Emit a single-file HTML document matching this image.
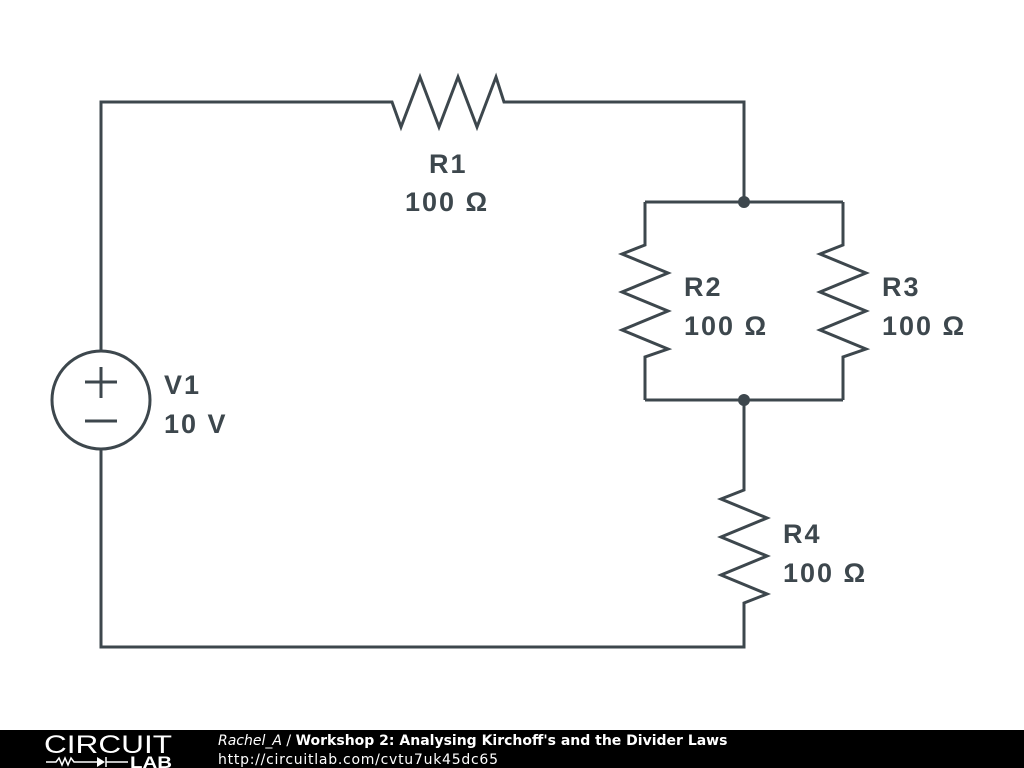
<!DOCTYPE html>
<html><head><meta charset="utf-8"><style>
html,body{margin:0;padding:0;background:#fff;width:1024px;height:768px;overflow:hidden}
svg{display:block}
</style></head><body>
<svg width="1024" height="768" viewBox="0 0 1024 768" xmlns="http://www.w3.org/2000/svg">
<g fill="none" stroke="#3d474d" stroke-width="3" stroke-linejoin="miter">
<polyline points="101,351 101,102 392,102 401,127 420,77 439,127 458,77 477,127 496,77 504,102 744,102 744,202"/>
<polyline points="645,202 843,202"/>
<polyline points="645,202 645,245 622,254 668,273 622,292 668,311 622,330 668,349 645,357 645,400"/>
<polyline points="843,202 843,245 820,254 866,273 820,292 866,311 820,330 866,349 843,357 843,400"/>
<polyline points="645,400 843,400"/>
<polyline points="744,400 744,490 721,499 767,518 721,537 767,556 721,575 767,594 744,603 744,647 101,647 101,449"/>
<circle cx="101" cy="400" r="49"/>
<line x1="85" y1="382" x2="117" y2="382"/><line x1="101" y1="367" x2="101" y2="398"/>
<line x1="85" y1="421" x2="117" y2="421"/>
</g>
<circle cx="744" cy="202" r="6" fill="#3d474d"/>
<circle cx="744" cy="400" r="6" fill="#3d474d"/>
<g fill="#3d474d" font-family="Liberation Sans, Arial, sans-serif" font-weight="bold" font-size="27" letter-spacing="2">
<text x="429" y="173">R1</text><text x="405" y="211">100 Ω</text>
<text x="684" y="296">R2</text><text x="684" y="335">100 Ω</text>
<text x="882" y="296">R3</text><text x="882" y="335">100 Ω</text>
<text x="164" y="394">V1</text><text x="164" y="433">10 V</text>
<text x="783" y="543">R4</text><text x="783" y="582">100 Ω</text>
</g>
<rect x="0" y="730" width="1024" height="38" fill="#000"/>
<text x="44" y="753" fill="#fff" font-family="Liberation Sans, sans-serif" font-size="25" textLength="128" lengthAdjust="spacingAndGlyphs">CIRCUIT</text>
<g stroke="#fff" stroke-width="1.5" fill="none">
<polyline points="46,762 56,762 59,758 62,765 65,758 68,765 71,758 74,762 97,762"/>
<line x1="106" y1="757" x2="106" y2="767"/>
<line x1="106" y1="762" x2="128" y2="762"/>
</g>
<polygon points="97,757 97,767 105,762" fill="#fff"/>
<text x="130" y="768" fill="#fff" font-family="Liberation Sans, sans-serif" font-size="17" font-weight="bold" textLength="42" lengthAdjust="spacingAndGlyphs">LAB</text>
<text x="218" y="745" fill="#fff" font-family="DejaVu Sans, sans-serif" font-size="14"><tspan font-style="italic">Rachel_A</tspan> / <tspan font-weight="bold">Workshop 2: Analysing Kirchoff's and the Divider Laws</tspan></text>
<text x="218" y="764" fill="#fff" font-family="DejaVu Sans, sans-serif" font-size="14" textLength="280">http://circuitlab.com/cvtu7uk45dc65</text>
</svg>
</body></html>
